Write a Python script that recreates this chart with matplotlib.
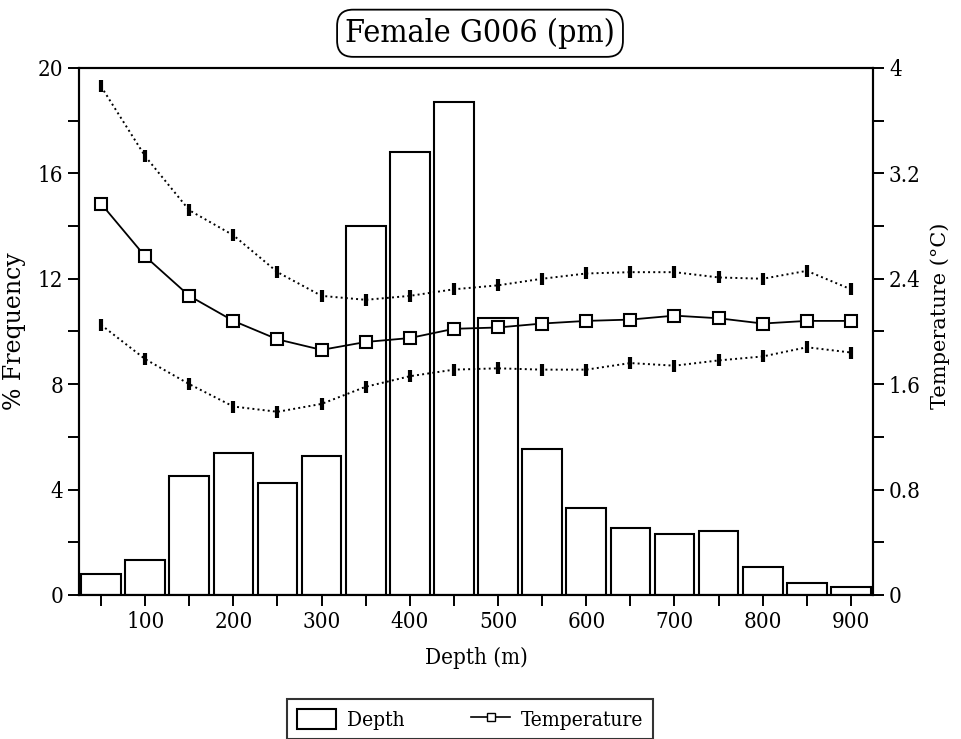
import matplotlib
matplotlib.use("Agg")
import matplotlib.pyplot as plt
from matplotlib.patches import Patch
from matplotlib.lines import Line2D

plt.rcParams['font.family'] = ['DejaVu Serif']
plt.rcParams['font.stretch'] = 'condensed'

# Depth bins (m)
depth = [50, 100, 150, 200, 250, 300, 350, 400, 450,
         500, 550, 600, 650, 700, 750, 800, 850, 900]

# Percentage of time spent in each depth bin
freq = [0.8, 1.33, 4.5, 5.38, 4.24, 5.27, 14.0, 16.8, 18.7,
        10.5, 5.55, 3.3, 2.55, 2.3, 2.42, 1.06, 0.44, 0.3]

# Mean temperature at depth (deg C) and upper/lower bounds
temp_mean = [2.97, 2.57, 2.27, 2.08, 1.94, 1.86, 1.92, 1.95, 2.02,
             2.03, 2.06, 2.08, 2.09, 2.12, 2.10, 2.06, 2.08, 2.08]
temp_upper = [3.86, 3.33, 2.92, 2.73, 2.45, 2.27, 2.24, 2.27, 2.32,
              2.35, 2.40, 2.44, 2.45, 2.45, 2.41, 2.40, 2.46, 2.32]
temp_lower = [2.05, 1.79, 1.60, 1.43, 1.39, 1.45, 1.58, 1.66, 1.71,
              1.72, 1.71, 1.71, 1.76, 1.74, 1.78, 1.81, 1.88, 1.84]

x_labels = [100, 200, 300, 400, 500, 600, 700, 800, 900]
freq_labels = [0, 4, 8, 12, 16, 20]
temp_labels = ["0", "0.8", "1.6", "2.4", "3.2", "4"]

fig = plt.figure(figsize=(9.61, 7.39), dpi=100)
ax = fig.add_axes([0.0822, 0.195, 0.8262, 0.713])

ax.bar(depth, freq, width=45, facecolor="white", edgecolor="black",
       linewidth=1.5, zorder=2)
ax.set_xlim(25, 925)
ax.set_ylim(0, 20)

ax.set_xticks(depth, minor=False)
ax.set_xticklabels([str(d) if d in x_labels else "" for d in depth])
ax.set_yticks(range(0, 21, 2))
ax.set_yticklabels([str(v) if v in freq_labels else "" for v in range(0, 21, 2)])

ax2 = ax.twinx()
ax2.set_ylim(0, 4)
ticks2 = [i * 0.4 for i in range(11)]
ax2.set_yticks(ticks2)
ax2.set_yticklabels([temp_labels[i // 2] if i % 2 == 0 else "" for i in range(11)])

ax2.plot(depth, temp_upper, linestyle=":", color="black", linewidth=1.4,
         marker="|", markersize=9, markeredgewidth=3, zorder=3)
ax2.plot(depth, temp_lower, linestyle=":", color="black", linewidth=1.4,
         marker="|", markersize=9, markeredgewidth=3, zorder=3)
ax2.plot(depth, temp_mean, linestyle="-", color="black", linewidth=1.3,
         marker="s", markersize=9, markerfacecolor="white",
         markeredgecolor="black", markeredgewidth=1.5, zorder=4)

for a in (ax, ax2):
    for s in a.spines.values():
        s.set_linewidth(1.5)
    a.tick_params(direction="out", length=8, width=1.4, labelsize=16)

ax.set_xlabel("Depth (m)", fontsize=16, labelpad=10)
ax.set_ylabel("% Frequency", fontsize=17, fontstretch="normal", labelpad=8)
ax2.set_ylabel("Temperature (°C)", fontsize=15, fontstretch="normal")
ax2.yaxis.set_label_coords(1.072, 0.53)

fig.text(0.4995, 0.955, "Female G006 (pm)", ha="center", va="center",
         fontsize=23,
         bbox=dict(boxstyle="round,pad=0.25,rounding_size=0.5",
                   facecolor="white", edgecolor="black", linewidth=1.3))

handles = [
    Patch(facecolor="white", edgecolor="black", linewidth=1.5, label="Depth"),
    Line2D([], [], color="black", linewidth=1.2, marker="s", markersize=6,
           markerfacecolor="white", markeredgecolor="black", label="Temperature"),
]
leg = fig.legend(handles=handles, loc="center", bbox_to_anchor=(0.489, 0.027),
                 ncol=2, frameon=True, fancybox=False, edgecolor="black",
                 fontsize=15, handlelength=1.9, handleheight=1.1,
                 handletextpad=0.5, columnspacing=3.2, borderpad=0.45)
leg.get_frame().set_linewidth(1.5)

fig.savefig("out.png", dpi=100)
